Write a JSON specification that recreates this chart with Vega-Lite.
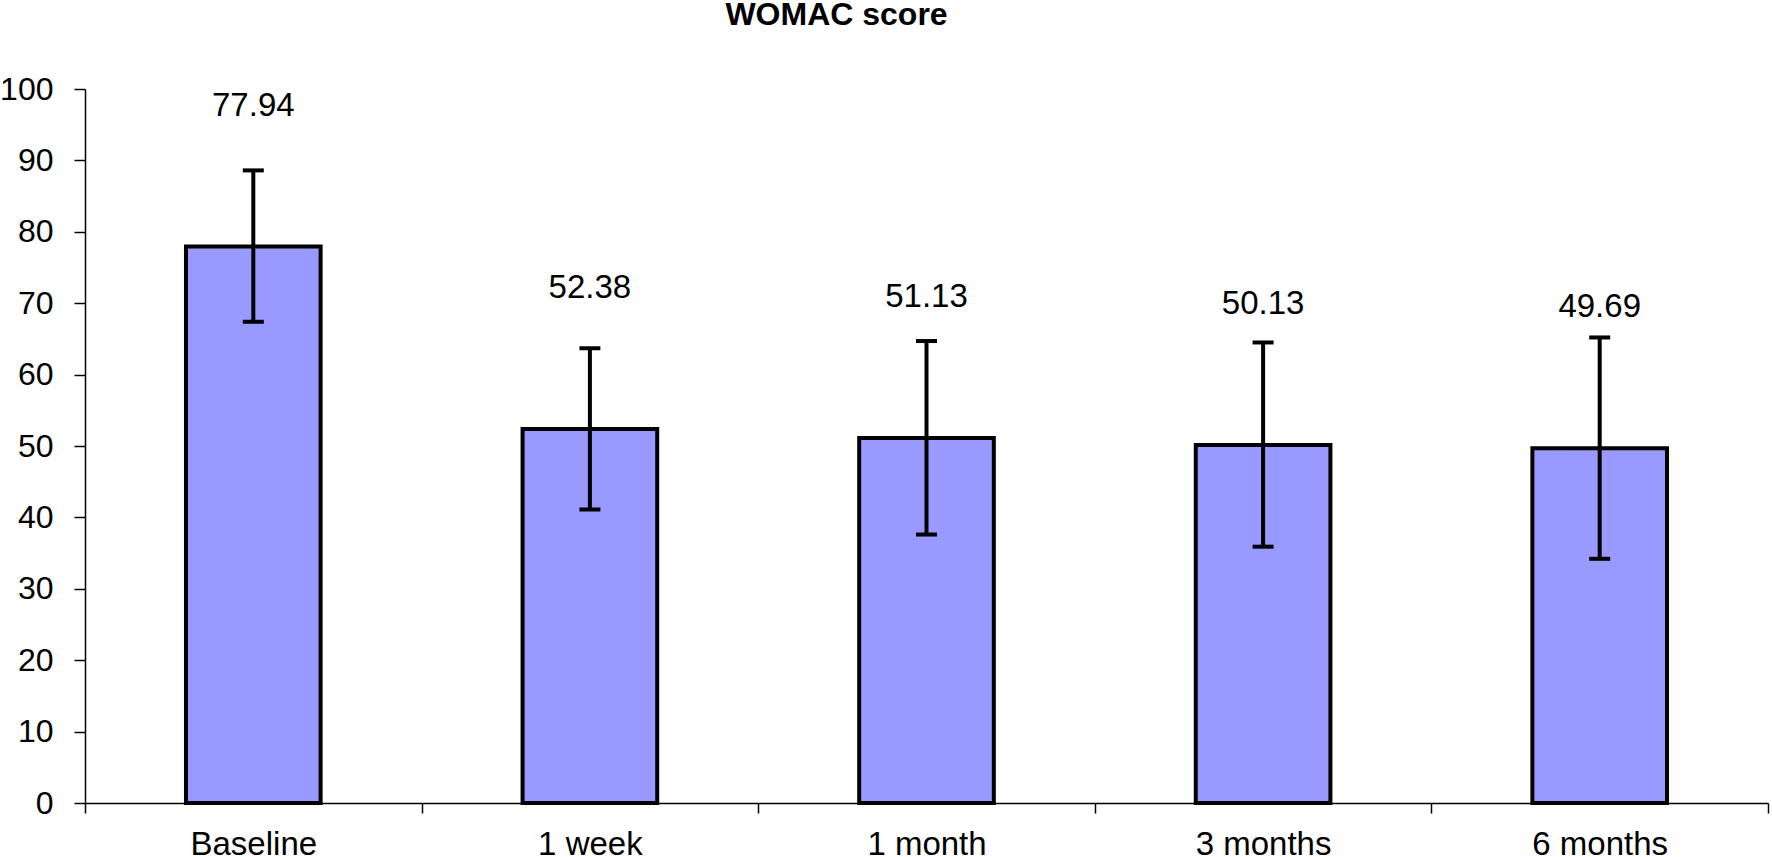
{
  "$schema": "https://vega.github.io/schema/vega-lite/v6.json",
  "autosize": "none",
  "width": 1683,
  "height": 714,
  "padding": {"left": 85, "top": 89, "right": 4, "bottom": 54},
  "background": "white",
  "title": {
    "text": "WOMAC score",
    "font": "Liberation Sans",
    "fontSize": 32,
    "fontWeight": "bold",
    "color": "black",
    "anchor": "middle",
    "dx": -90,
    "offset": 41
  },
  "data": {
    "values": [
      {"time": "Baseline", "score": 77.94, "low": 67.4, "high": 88.6},
      {"time": "1 week", "score": 52.38, "low": 41.1, "high": 63.7},
      {"time": "1 month", "score": 51.13, "low": 37.6, "high": 64.7},
      {"time": "3 months", "score": 50.13, "low": 35.9, "high": 64.5},
      {"time": "6 months", "score": 49.69, "low": 34.2, "high": 65.2}
    ]
  },
  "encoding": {
    "x": {
      "field": "time",
      "type": "nominal",
      "sort": null,
      "title": null,
      "scale": {"paddingInner": 0, "paddingOuter": 0},
      "axis": {
        "labelAngle": 0,
        "labelFont": "Liberation Sans",
        "labelFontSize": 33,
        "labelColor": "black",
        "labelPadding": 15,
        "tickBand": "extent",
        "tickSize": 10,
        "tickWidth": 1.5,
        "tickColor": "black",
        "domainColor": "black",
        "domainWidth": 1.5
      }
    }
  },
  "layer": [
    {
      "mark": {"type": "bar", "fill": "#9999FF", "stroke": "black", "strokeWidth": 4, "width": {"band": 0.4}},
      "encoding": {
        "y": {
          "field": "score",
          "type": "quantitative",
          "title": null,
          "scale": {"domain": [0, 100], "nice": false},
          "axis": {
            "values": [0, 10, 20, 30, 40, 50, 60, 70, 80, 90, 100],
            "grid": false,
            "labelFont": "Liberation Sans",
            "labelFontSize": 32,
            "labelColor": "black",
            "labelPadding": 21,
            "tickSize": 11,
            "tickWidth": 1.5,
            "tickColor": "black",
            "domainColor": "black",
            "domainWidth": 1.5
          }
        }
      }
    },
    {
      "mark": {"type": "rule", "stroke": "black", "strokeWidth": 4},
      "encoding": {
        "y": {"field": "low", "type": "quantitative"},
        "y2": {"field": "high"}
      }
    },
    {
      "mark": {"type": "tick", "color": "black", "size": 21, "thickness": 4, "opacity": 1},
      "encoding": {"y": {"field": "low", "type": "quantitative"}}
    },
    {
      "mark": {"type": "tick", "color": "black", "size": 21, "thickness": 4, "opacity": 1},
      "encoding": {"y": {"field": "high", "type": "quantitative"}}
    },
    {
      "mark": {"type": "text", "font": "Liberation Sans", "fontSize": 33, "color": "black", "baseline": "alphabetic", "dy": -131},
      "encoding": {
        "y": {"field": "score", "type": "quantitative"},
        "text": {"field": "score", "type": "quantitative", "format": ".2f"}
      }
    }
  ],
  "config": {"view": {"stroke": null}}
}
